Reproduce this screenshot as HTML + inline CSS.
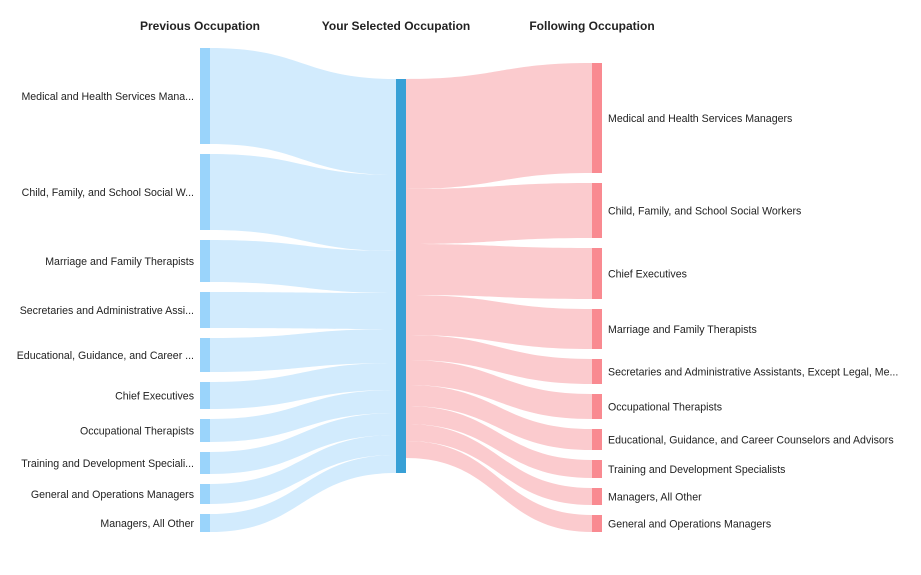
<!DOCTYPE html>
<html><head><meta charset="utf-8"><style>
body{margin:0;background:#fff;}
svg{display:block;font-family:"Liberation Sans",sans-serif;}
</style></head><body>
<svg id="s" width="921" height="575" xmlns="http://www.w3.org/2000/svg">
<text x="200" y="30" text-anchor="middle" font-size="12" font-weight="bold" fill="#222">Previous Occupation</text>
<text x="396" y="30" text-anchor="middle" font-size="12" font-weight="bold" fill="#222">Your Selected Occupation</text>
<text x="592" y="30" text-anchor="middle" font-size="12" font-weight="bold" fill="#222">Following Occupation</text>
<g id="links"></g><g id="nodes"></g><g id="labels" font-size="10.6" fill="#222"></g>
</svg>
<script>
var L=[["Medical and Health Services Mana...",48,144],["Child, Family, and School Social W...",154,230],["Marriage and Family Therapists",240,282],["Secretaries and Administrative Assi...",292,328],["Educational, Guidance, and Career ...",338,372],["Chief Executives",382,409],["Occupational Therapists",419,442],["Training and Development Speciali...",452,474],["General and Operations Managers",484,504],["Managers, All Other",514,532]];
var R=[["Medical and Health Services Managers",63,173],["Child, Family, and School Social Workers",183,238],["Chief Executives",248,299],["Marriage and Family Therapists",309,349],["Secretaries and Administrative Assistants, Except Legal, Me...",359,384],["Occupational Therapists",394,419],["Educational, Guidance, and Career Counselors and Advisors",429,450],["Training and Development Specialists",460,478],["Managers, All Other",488,505],["General and Operations Managers",515,532]];
var NS="http://www.w3.org/2000/svg";
function el(g,t,a,txt){var e=document.createElementNS(NS,t);for(var k in a)e.setAttribute(k,a[k]);if(txt)e.textContent=txt;document.getElementById(g).appendChild(e);}
function link(x0,a0,b0,x1,a1,b1,c){var m=(x0+x1)/2;
el("links","path",{d:"M"+x0+","+a0+"C"+m+","+a0+" "+m+","+a1+" "+x1+","+a1+"L"+x1+","+b1+"C"+m+","+b1+" "+m+","+b0+" "+x0+","+b0+"Z",fill:c});}
var cy=79;
L.forEach(function(n){var h=n[2]-n[1];link(210,n[1],n[2],396,cy,cy+h,"#d2ebfd");cy+=h;
el("nodes","rect",{x:200,y:n[1],width:10,height:h,fill:"#9ad4fb"});
el("labels","text",{x:194,y:(n[1]+n[2])/2+4,"text-anchor":"end"},n[0]);});
cy=79;
R.forEach(function(n){var h=n[2]-n[1];link(406,cy,cy+h,592,n[1],n[2],"#fbcbce");cy+=h;
el("nodes","rect",{x:592,y:n[1],width:10,height:h,fill:"#f98a91"});
el("labels","text",{x:608,y:(n[1]+n[2])/2+4},n[0]);});
el("nodes","rect",{x:396,y:79,width:10,height:394,fill:"#38a0d6"});
</script>
</body></html>
